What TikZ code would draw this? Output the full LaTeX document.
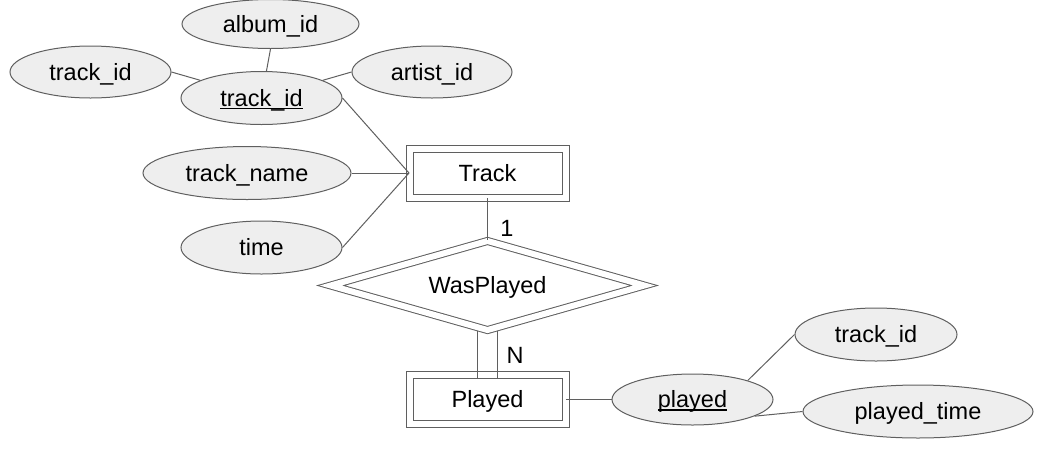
\documentclass[tikz,border=0pt]{standalone}
\usepackage{fontspec}
\setmainfont{Liberation Sans}
\usetikzlibrary{shapes.geometric}
\definecolor{linec}{HTML}{5F5F5F}
\definecolor{attrfill}{HTML}{EEEEEE}
\newcommand\keytext[1]{\setbox0\hbox{#1}\rlap{\rule[-2.6pt]{\wd0}{1.2pt}}\box0}
\tikzset{
  every node/.style={font=\fontsize{23.5}{27}\selectfont, text=black, text height=19.8pt, text depth=3pt},
  attr/.style={ellipse, draw=linec, fill=attrfill, line width=1pt, inner sep=0pt},
  wentity/.style={rectangle, draw=linec, double=white, double distance=6pt, fill=white, line width=1pt, minimum width=156pt, minimum height=49pt, inner sep=0pt},
  wrel/.style={diamond, aspect=3.5, draw=linec, double=white, double distance=6pt, fill=white, line width=1pt, minimum width=314pt, minimum height=89.5pt, inner sep=0pt},
  conn/.style={draw=linec, line width=1pt},
  card/.style={inner sep=0pt}
}
\begin{document}
\begin{tikzpicture}[x=1pt,y=-1pt]
\useasboundingbox (0,0) rectangle (1044,448);
% attributes of Track
\node[attr, minimum width=177pt, minimum height=49pt] (album) at (270.5,24) {album\_id};
\node[attr, minimum width=161pt, minimum height=52pt] (tl) at (90.5,72) {track\_id};
\node[attr, minimum width=161pt, minimum height=53pt] (tid) at (261.5,98) {\keytext{track\_id}};
\node[attr, minimum width=160pt, minimum height=52pt] (artist) at (432,72) {artist\_id};
\node[attr, minimum width=208pt, minimum height=53pt] (tname) at (247,173) {track\_name};
\node[attr, minimum width=161pt, minimum height=53pt] (time) at (261.5,247.5) {time};
% entities and relationship
\node[wentity] (track) at (487.5,173) {Track};
\node[wrel] (wp) at (487.5,285.5) {WasPlayed};
\node[wentity, minimum height=48.5pt] (playedbox) at (487.5,399.5) {Played};
% attributes of Played
\node[attr, minimum width=161pt, minimum height=51pt] (played) at (692.5,399.5) {\keytext{played}};
\node[attr, minimum width=162pt, minimum height=53pt] (tid2) at (876,334.5) {track\_id};
\node[attr, minimum width=230pt, minimum height=53pt] (ptime) at (918,411.5) {played\_time};
% cardinalities
\node[card] (c1) at (507,228) {1};
\node[card] (cn) at (515,355) {N};
% connectors
\draw[conn] (tl.east) -- (tid);
\draw[conn] (album.south) -- (tid);
\draw[conn] (artist.west) -- (tid);
\draw[conn] (tid.east) -- (track.west);
\draw[conn] (tname.east) -- (track.west);
\draw[conn] (time.east) -- (track.west);
\draw[conn] (track.south) -- (wp.north);
\draw[conn] ([xshift=-10pt]wp.south) -- ([xshift=-10pt,yshift=-3.5pt]playedbox.north);
\draw[conn] ([xshift=10pt]wp.south) -- ([xshift=10pt,yshift=-3.5pt]playedbox.north);
\draw[conn] (playedbox.east) -- (played.west);
\draw[conn] (played.19) -- (tid2.west);
\draw[conn] (played.-15) -- (ptime.west);
\end{tikzpicture}
\end{document}
